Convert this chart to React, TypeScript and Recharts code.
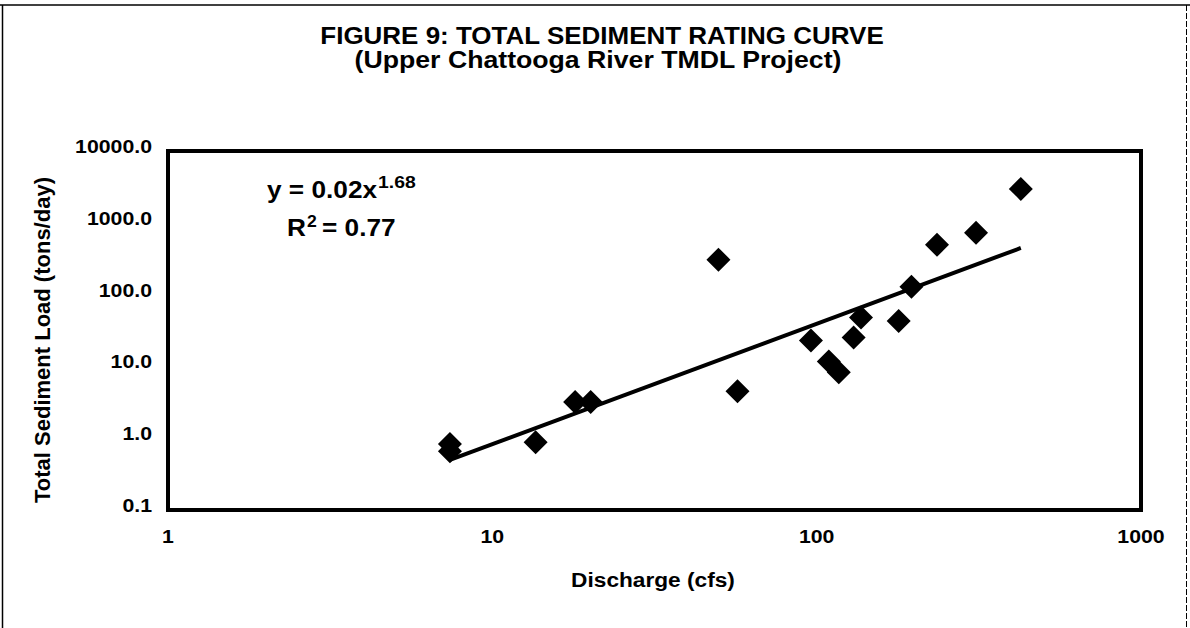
import { ScatterChart, Scatter, XAxis, YAxis, ReferenceArea } from 'recharts'

// discharge (cfs) vs total sediment load (tons/day)
const discharge = [7.4, 7.4, 13.6, 18.0, 20.1, 49.8, 57, 96, 109, 117, 130, 137, 179, 196, 235, 310, 426]
const load = [0.83, 0.66, 0.88, 3.2, 3.2, 306, 4.5, 23, 11.7, 8.3, 25.3, 48, 43, 129, 494, 727, 2965]

// power trendline y = 0.02x^1.68, end points
const trendX = [7.4, 426]
const trendY = [0.5, 446]

const xTicks = [1, 10, 100, 1000]
const yTicks = [0.1, 1, 10, 100, 1000, 10000]

const W = 1190
const H = 628
const FONT = '"Liberation Sans", Arial, sans-serif'

const points = discharge.map((x, i) => ({ x, y: load[i] }))
const trend = trendX.map((x, i) => ({ x, y: trendY[i] }))

const Diamond = (props: any) => {
  const { cx, cy } = props
  if (cx == null || cy == null) return null
  return <polygon points={`${cx},${cy - 12} ${cx + 12},${cy} ${cx},${cy + 12} ${cx - 12},${cy}`} fill="#000" />
}

const XTick = ({ x, y, payload }: any) => (
  <text
    transform={`translate(${x} ${y + 33}) scale(1.12 1)`}
    textAnchor="middle"
    fontFamily={FONT}
    fontWeight="bold"
    fontSize={19}
    fill="#000"
  >
    {payload.value}
  </text>
)

const YTick = ({ x, y, payload }: any) => (
  <text
    transform={`translate(${x} ${y + 2}) scale(1.12 1)`}
    textAnchor="end"
    fontFamily={FONT}
    fontWeight="bold"
    fontSize={19}
    fill="#000"
  >
    {Number(payload.value).toFixed(1)}
  </text>
)

function Overlay() {
  const txt = { fontFamily: FONT, fontWeight: 'bold' as const, fill: '#000' }
  return (
    <svg width={W} height={H} style={{ position: 'absolute', left: 0, top: 0, pointerEvents: 'none' }}>
      {/* scanned page frame */}
      <line x1={0} y1={5} x2={W} y2={5} stroke="#000" strokeWidth={1.5} />
      <line x1={2.5} y1={5} x2={2.5} y2={H} stroke="#000" strokeWidth={1.5} />
      <line x1={1186.5} y1={5} x2={1186.5} y2={H} stroke="#000" strokeWidth={1} strokeDasharray="6 2" />

      <text transform="translate(602 44) scale(1.13 1)" textAnchor="middle" fontSize={23} {...txt}>
        FIGURE 9: TOTAL SEDIMENT RATING CURVE
      </text>
      <text transform="translate(598 68) scale(1.16 1)" textAnchor="middle" fontSize={23} {...txt}>
        (Upper Chattooga River TMDL Project)
      </text>

      <text transform="translate(653 587) scale(1.08 1)" textAnchor="middle" fontSize={21} {...txt}>
        Discharge (cfs)
      </text>
      <text transform="translate(50 340) rotate(-90)" textAnchor="middle" fontSize={22} {...txt}>
        Total Sediment Load (tons/day)
      </text>

      <text transform="translate(267 198) scale(1.14 1)" fontSize={23} {...txt}>
        y = 0.02x
      </text>
      <text transform="translate(378 188) scale(1.14 1)" fontSize={17} {...txt}>
        1.68
      </text>
      <text transform="translate(287 236) scale(1.14 1)" fontSize={23} {...txt}>
        R
      </text>
      <text transform="translate(307 227) scale(1.1 1)" fontSize={16} {...txt}>
        2
      </text>
      <text transform="translate(322 236) scale(1.14 1)" fontSize={23} {...txt}>
        = 0.77
      </text>
    </svg>
  )
}

export default function App() {
  return (
    <div style={{ position: 'absolute', left: 0, top: 0, width: W, height: H, background: '#fff' }}>
      <ScatterChart width={W} height={H} margin={{ top: 151, right: 49, bottom: 0, left: 0 }}>
        <XAxis
          type="number"
          dataKey="x"
          scale="log"
          domain={[1, 1000]}
          ticks={xTicks}
          allowDataOverflow
          height={118}
          axisLine={false}
          tickLine={false}
          tickSize={0}
          tickMargin={0}
          tick={<XTick />}
          interval={0}
        />
        <YAxis
          type="number"
          dataKey="y"
          scale="log"
          domain={[0.1, 10000]}
          ticks={yTicks}
          allowDataOverflow
          width={168}
          axisLine={false}
          tickLine={false}
          tickSize={0}
          tickMargin={16}
          tick={<YTick />}
          interval={0}
        />
        <Scatter
          data={trend}
          fill="#000"
          line={{ stroke: '#000', strokeWidth: 4 }}
          shape={() => <g />}
          isAnimationActive={false}
        />
        <Scatter data={points} fill="#000" shape={<Diamond />} isAnimationActive={false} />
        <ReferenceArea
          x1={1}
          x2={1000}
          y1={0.1}
          y2={10000}
          fill="none"
          fillOpacity={0}
          stroke="#000"
          strokeWidth={4}
          ifOverflow="visible"
        />
      </ScatterChart>
      <Overlay />
    </div>
  )
}
